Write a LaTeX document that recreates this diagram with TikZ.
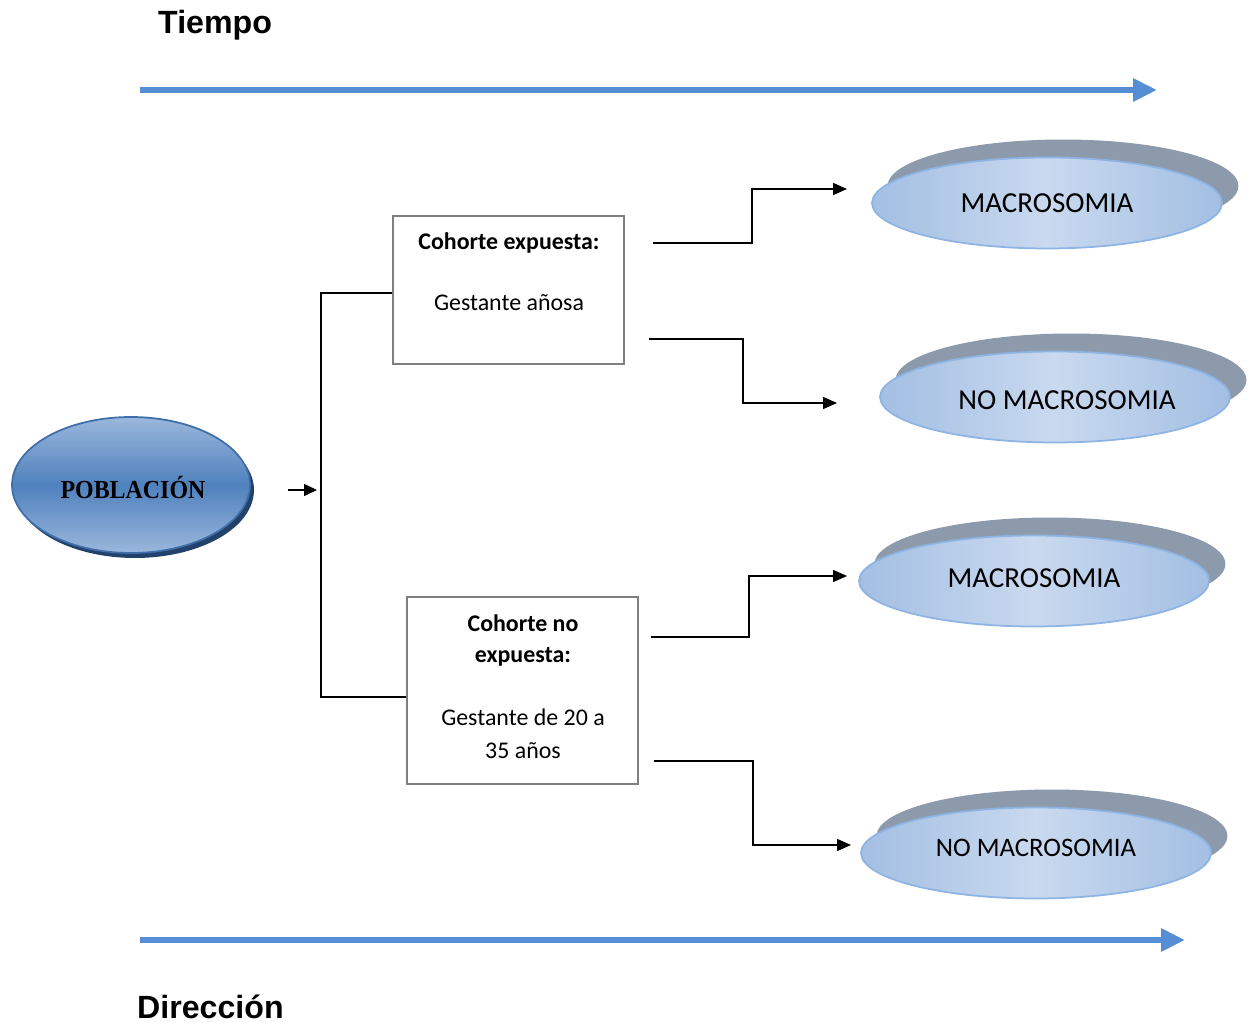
\documentclass[tikz,border=0pt]{standalone}
\usepackage{fontspec}
\setmainfont{Carlito}
\newfontfamily\arialf{Liberation Sans}
\newfontfamily\seriff{Liberation Serif}
\usetikzlibrary{arrows.meta,shapes.geometric}
\definecolor{tblue}{HTML}{558ED5}
\definecolor{pdark}{HTML}{4F81BD}
\definecolor{plight}{HTML}{9BB7DC}
\definecolor{pedge}{HTML}{3F6EA8}
\definecolor{pshadow}{HTML}{23426B}
\definecolor{oshadow}{HTML}{8D9AAC}
\definecolor{olight}{HTML}{C9D9EF}
\definecolor{omid}{HTML}{A3BFE3}
\definecolor{oedge}{HTML}{8EB4E3}
\definecolor{boxgray}{HTML}{7F7F7F}
\tikzset{
  timearrow/.style={tblue, line width=3.8pt, -{Triangle[length=0.48cm,width=0.44cm]}},
  conn/.style={line width=0.85pt, black},
  connarrow/.style={conn, -{Triangle[length=0.28cm,width=0.24cm]}},
  cbox/.style={draw=boxgray, line width=1pt, minimum width=4.62cm, inner sep=0pt, fill=white},
  bt/.style={font=\bfseries\fontsize{13.6pt}{16pt}\selectfont},
  nt/.style={font=\fontsize{13.6pt}{16pt}\selectfont},
  outshadow/.style={ellipse, fill=oshadow, minimum width=7.02cm, minimum height=1.86cm, inner sep=0pt},
  outell/.style={ellipse, draw=oedge, line width=1pt, minimum width=7cm, minimum height=1.82cm, inner sep=0pt,
     shading angle=30, left color=omid, right color=omid, middle color=olight,
     font=\fontsize{16.5pt}{19pt}\selectfont},
  popshadow/.style={ellipse, fill=pshadow, minimum width=4.76cm, minimum height=2.72cm, inner sep=0pt},
  popell/.style={ellipse, draw=pedge, line width=1pt, minimum width=4.76cm, minimum height=2.72cm, inner sep=0pt,
     top color=plight, bottom color=plight, middle color=pdark},
  poptext/.style={font=\seriff\bfseries\fontsize{14.8pt}{17pt}\selectfont, xscale=0.92, transform shape},
  ttl/.style={font=\arialf\bfseries\fontsize{18.3pt}{22pt}\selectfont, anchor=west}
}
\begin{document}
\begin{tikzpicture}[x=0.02cm,y=-0.02cm]
\useasboundingbox (0,0) rectangle (1248,1023);
% titles
\node[ttl] (tiempo) at (152,25) {Tiempo};
\node[ttl] (direccion) at (131,1007) {Dirección};
% time arrows
\coordinate (ta1) at (140,90);
\coordinate (ta2) at (1157,90);
\draw[timearrow] (ta1) -- (ta2);
\coordinate (da1) at (140,940);
\coordinate (da2) at (1185,940);
\draw[timearrow] (da1) -- (da2);
% population
\node[popshadow] (pops) at (135,490) {};
\node[popell] (pob) at (131,485) {};
\node[poptext] (pobt) at (133,487) {POBLACIÓN};
% boxes
\node[cbox, minimum height=2.96cm] (b1) at (508.5,290) {};
\node[bt] (b1t) at (509,243) {Cohorte expuesta:};
\node[nt] (b1n) at (509,303) {Gestante añosa};
\node[cbox, minimum height=3.74cm] (b2) at (522.5,690.5) {};
\node[bt] (b2t) at (523,623) {Cohorte no};
\node[bt] (b2u) at (523,657) {expuesta:};
\node[nt] (b2n) at (523,717) {Gestante de 20 a};
\node[nt] (b2m) at (523,751) {35 años};
% outcome ellipses
\node[outshadow] (s1) at (1063,186) {};
\node[outell] (o1) at (1047,203) {MACROSOMIA};
\node[outshadow] (s2) at (1071,380) {};
\node[outell] (o2) at (1055,397) {};
\node[font=\fontsize{16.5pt}{19pt}\selectfont] (o2t) at (1067,400) {NO MACROSOMIA};
\node[outshadow] (s3) at (1050,564) {};
\node[outell] (o3) at (1034,581) {};
\node[font=\fontsize{16.5pt}{19pt}\selectfont] (o3t) at (1034,578) {MACROSOMIA};
\node[outshadow] (s4) at (1052,836) {};
\node[outell] (o4) at (1036,853) {};
\node[font=\fontsize{15.2pt}{18pt}\selectfont] (o4t) at (1036,848) {NO MACROSOMIA};
% branching
\coordinate (pa) at (288,490);
\coordinate (vm) at (317,490);
\coordinate (vt) at (321,293);
\coordinate (vb) at (321,697);
\draw[conn, -{Triangle[length=0.26cm,width=0.24cm]}] (pa) -- (vm);
\draw[conn, line width=1.1pt] (b1.west |- vt) -- (vt) -- (vb) -- (b2.west |- vb);
% connectors to outcomes
\coordinate (c1a) at (653,243); \coordinate (c1b) at (752,189); \coordinate (c1e) at (847,189);
\draw[connarrow] (c1a) -| (c1b) -- (c1e);
\coordinate (c2a) at (649,339); \coordinate (c2b) at (743,403); \coordinate (c2e) at (837,403);
\draw[connarrow] (c2a) -| (c2b) -- (c2e);
\coordinate (c3a) at (651,637); \coordinate (c3b) at (749,576); \coordinate (c3e) at (847,576);
\draw[connarrow] (c3a) -| (c3b) -- (c3e);
\coordinate (c4a) at (654,761); \coordinate (c4b) at (753,845); \coordinate (c4e) at (851,845);
\draw[connarrow] (c4a) -| (c4b) -- (c4e);
\end{tikzpicture}
\end{document}
